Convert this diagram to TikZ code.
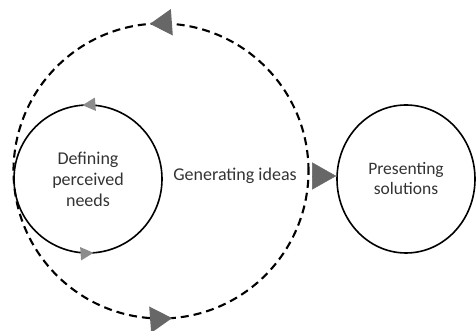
\documentclass[tikz,border=0pt]{standalone}
\usepackage{fontspec}
\setmainfont{Carlito}
\usetikzlibrary{shapes.geometric, decorations.markings, arrows.meta, positioning}
\definecolor{tipdark}{HTML}{676767}
\definecolor{tiplight}{HTML}{8C8C8C}
\definecolor{txtgray}{HTML}{333333}
\tikzset{
  % fase del processo (cerchio pieno)
  phase/.style={circle, draw=black, line width=1.6pt, inner sep=0pt, align=center,
    text=txtgray, font=\fontsize{18}{21}\selectfont},
  % ciclo esterno tratteggiato
  outerloop/.style={circle, draw=black, line width=2.1pt, dash pattern=on 8pt off 5pt,
    inner sep=0pt},
  % punte triangolari lungo un anello, verso antiorario
  ringtips/.style={postaction={decorate, decoration={markings,
    mark=at position 0.262 with {\arrow{#1}},
    mark=at position 0.762 with {\arrow{#1}}}}},
  % freccia verso la fase finale
  flowtip/.style={-{Triangle[length=24pt, width=27pt, color=tipdark]}, tipdark, line width=0.4pt},
  lbl/.style={text=txtgray, font=\fontsize{18}{21}\selectfont, align=center},
}

\begin{document}
\begin{tikzpicture}[x=1pt, y=1pt]
  \useasboundingbox (0,0) rectangle (476,331);
  \node[outerloop, minimum size=295pt,
    ringtips={Triangle[length=22pt, width=26pt, color=tipdark]}] (ideas) at (161,160) {};
  \node[phase, minimum size=148pt,
    ringtips={Triangle[length=13pt, width=13pt, color=tiplight]}] (needs) at (88,152) {Defining\\perceived\\needs};
  \node[lbl] (idealbl) at (235,155) {Generating ideas};
  \node[phase, ellipse, minimum width=138pt, minimum height=148pt,
    font=\fontsize{17.5}{20}\selectfont] (solutions) at (406,152) {Presenting\\solutions};
  \draw[flowtip, shorten <=4.5pt] ([yshift=3pt]ideas.east |- solutions.west) -- ([yshift=3pt]solutions.west);
\end{tikzpicture}
\end{document}
